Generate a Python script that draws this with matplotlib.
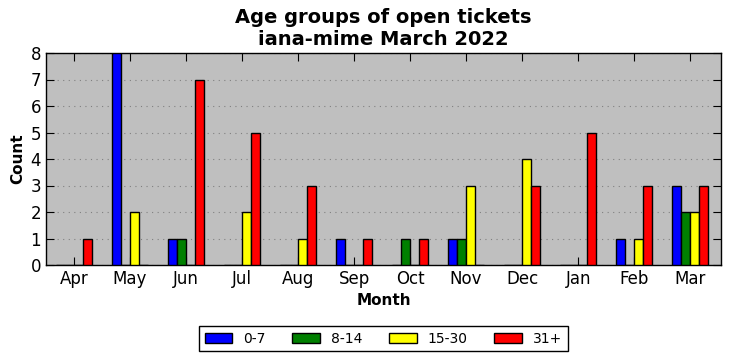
import numpy as np
import matplotlib.pyplot as plt

months = ['Apr', 'May', 'Jun', 'Jul', 'Aug', 'Sep', 'Oct', 'Nov', 'Dec', 'Jan', 'Feb', 'Mar']
age_0_7 = [0, 8, 1, 0, 0, 1, 0, 1, 0, 0, 1, 3]
age_8_14 = [0, 0, 1, 0, 0, 0, 1, 1, 0, 0, 0, 2]
age_15_30 = [0, 2, 0, 2, 1, 0, 0, 3, 4, 0, 1, 2]
age_31_plus = [1, 0, 7, 5, 3, 1, 1, 0, 3, 5, 3, 3]

series = [('0-7', age_0_7, 'blue'), ('8-14', age_8_14, 'green'),
          ('15-30', age_15_30, 'yellow'), ('31+', age_31_plus, 'red')]

fig = plt.figure(figsize=(7.31, 3.61), dpi=100)
ax = fig.add_axes([46 / 731, 1 - 265 / 361, 675 / 731, 212 / 361])
ax.set_facecolor('#bfbfbf')

x = np.arange(len(months))
w = 0.16
for i, (label, vals, color) in enumerate(series):
    ax.bar(x + (i - 2) * w, vals, w, align='edge', color=color,
           edgecolor='black', linewidth=1, label=label, zorder=3)

ax.set_xticks(x)
ax.set_xticklabels(months, fontsize=12)
ax.set_xlim(-0.5, 11.55)
ax.set_ylim(0, 8)
ax.set_yticks(range(9))
ax.tick_params(axis='y', labelsize=12)
ax.tick_params(direction='in', top=True, right=True, length=6)
ax.grid(axis='y', color='#808080', linestyle=(0, (1, 4)), linewidth=0.8, zorder=0)
for s in ax.spines.values():
    s.set_linewidth(1)

ax.set_xlabel('Month', fontsize=11, fontweight='bold')
ax.set_ylabel('Count', fontsize=11, fontweight='bold')
ax.set_title('Age groups of open tickets\niana-mime March 2022', fontsize=14, fontweight='bold')

ax.legend(loc='upper center', bbox_to_anchor=(0.5, -0.288), ncol=4, fontsize=10,
          fancybox=False, edgecolor='black', framealpha=1, handlelength=2.0,
          handletextpad=0.8, columnspacing=1.9, borderaxespad=0)

fig.savefig('out.png', dpi=100)
